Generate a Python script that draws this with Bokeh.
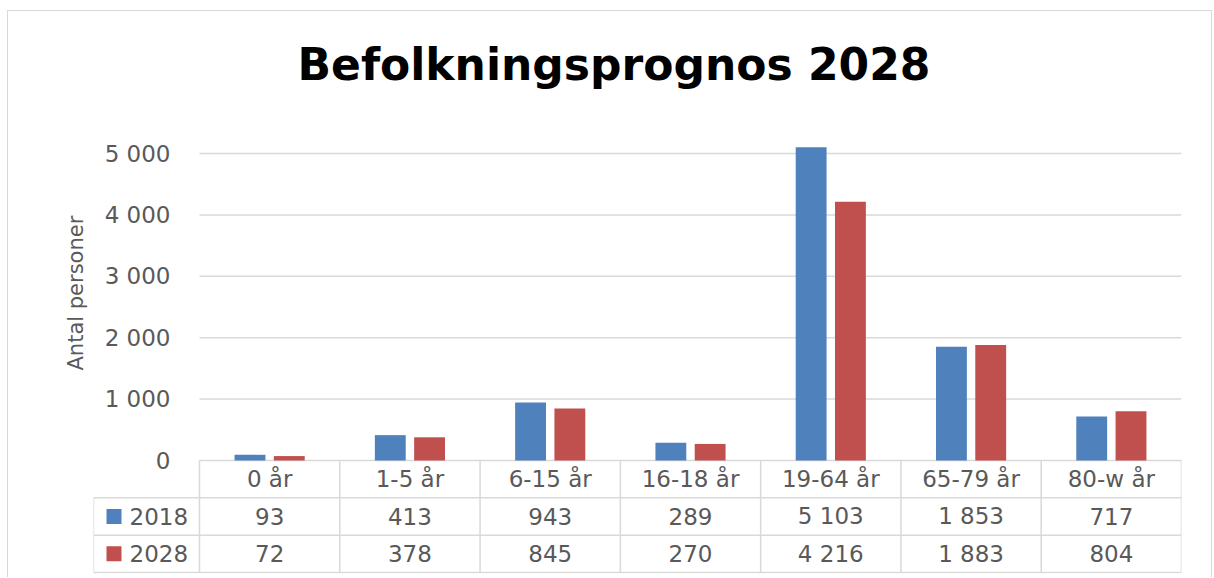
from bokeh.plotting import figure
from bokeh.models import Range1d, FixedTicker, ColumnDataSource, Title
from bokeh.core.properties import value
from bokeh.embed import file_html
from bokeh.resources import INLINE

categories = ["0 år", "1-5 år", "6-15 år", "16-18 år", "19-64 år", "65-79 år", "80-w år"]
series_names = ["2018", "2028"]
values_2018 = [93, 413, 943, 289, 5103, 1853, 717]
values_2028 = [72, 378, 845, 270, 4216, 1883, 804]
y_ticks = [0, 1000, 2000, 3000, 4000, 5000]
title_text = "Befolkningsprognos 2028"
y_label = "Antal personer"

BLUE = "#4F81BD"
RED = "#C0504D"
GRID = "#D9D9D9"
TXT = "#595959"
FONT = "DejaVu Sans"


def fmt(v):
    return f"{v:,}".replace(",", " ")


ncat = len(categories)
# layout helpers (pixels -> data units)
units_per_px = 5000 / 307.0       # value axis scale
row = 37.33 * units_per_px        # table row height in value units
leg_w = 106 / 140.29              # legend column width in category units

p = figure(x_range=Range1d(-leg_w, ncat),
           y_range=Range1d(-113 * units_per_px, 350 * units_per_px),
           width=1205, height=567, output_backend="svg", toolbar_location=None,
           min_border_left=85, min_border_right=32, min_border_top=99, min_border_bottom=5,
           styles={"margin": "10px 0 0 7px",
                   "border-left": "1px solid #D9D9D9",
                   "border-top": "1px solid #D9D9D9",
                   "border-right": "1px solid #D9D9D9"})
p.xaxis.visible = False
p.grid.visible = False
p.outline_line_color = None

# gridlines from ticks (category area only)
p.segment(x0=[0] * len(y_ticks), y0=y_ticks, x1=[ncat] * len(y_ticks), y1=y_ticks,
          line_color=GRID, line_width=1.5)

# bars
cx = [i + 0.5 for i in range(ncat)]
src = ColumnDataSource(dict(x18=[c - 0.14 for c in cx], x28=[c + 0.14 for c in cx],
                            v18=values_2018, v28=values_2028))
p.vbar(x="x18", top="v18", width=0.22, source=src, fill_color=BLUE, line_color=None)
p.vbar(x="x28", top="v28", width=0.22, source=src, fill_color=RED, line_color=None)

# y axis
ya = p.yaxis[0]
ya.ticker = FixedTicker(ticks=y_ticks)
ya.major_label_overrides = {t: fmt(t) for t in y_ticks}
ya.axis_line_color = None
ya.major_tick_line_color = None
ya.minor_tick_line_color = None
ya.major_label_text_font = FONT
ya.major_label_text_font_size = "23px"
ya.major_label_text_color = TXT
ya.major_label_standoff = -83

ylab = Title(text=y_label, text_font=FONT, text_font_size="21px", text_font_style="normal",
             text_color=TXT, align="left", offset=203, standoff=12)
p.add_layout(ylab, "left")

t = Title(text=title_text, text_font=FONT, text_font_size="44px", text_font_style="bold",
          text_color="#000000", align="left", offset=204, standoff=41)
p.add_layout(t, "above")

# ---------------- data table ----------------
hy = [-row, -2 * row, -3 * row]
p.segment(x0=[-leg_w] * 3, y0=hy, x1=[ncat] * 3, y1=hy, line_color=GRID, line_width=1.5)
vx = list(range(ncat + 1))
p.segment(x0=vx, y0=[0] * len(vx), x1=vx, y1=[-3 * row] * len(vx), line_color=GRID, line_width=1.5)
p.segment(x0=[-leg_w], y0=[-row], x1=[-leg_w], y1=[-3 * row], line_color=GRID, line_width=1.5)

p.text(x=cx, y=[-0.5 * row] * ncat, text=categories, text_align="center", text_baseline="middle",
       text_font=value(FONT), text_font_size="23px", text_color=TXT)
p.text(x=cx, y=[-1.5 * row] * ncat, text=[fmt(v) for v in values_2018], text_align="center",
       text_baseline="middle", text_font=value(FONT), text_font_size="23px", text_color=TXT)
p.text(x=cx, y=[-2.5 * row] * ncat, text=[fmt(v) for v in values_2028], text_align="center",
       text_baseline="middle", text_font=value(FONT), text_font_size="23px", text_color=TXT)

# legend keys
p.scatter(x=[-leg_w + 20.5 / 140.29] * 2, y=[-1.5 * row, -2.5 * row], marker="square", size=15,
          fill_color=[BLUE, RED], line_color=None)
p.text(x=[-leg_w + 36 / 140.29] * 2, y=[-1.5 * row, -2.5 * row], text=series_names,
       text_align="left", text_baseline="middle", text_font=value(FONT),
       text_font_size="23px", text_color=TXT)

open("out.html", "w").write(file_html(p, INLINE))
